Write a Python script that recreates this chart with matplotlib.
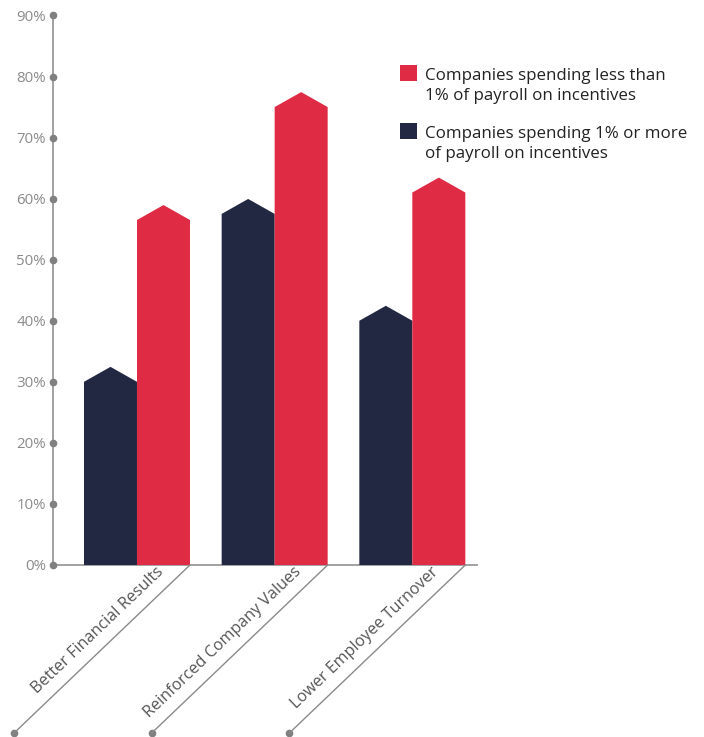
import matplotlib.pyplot as plt
from matplotlib.patches import Polygon, Rectangle
from matplotlib.transforms import ScaledTranslation

plt.rcParams['font.family'] = ['Open Sans', 'DejaVu Sans']

categories = ['Better Financial Results', 'Reinforced Company Values', 'Lower Employee Turnover']
high_spend = [30, 57.5, 40]     # 1% or more of payroll
low_spend = [56.5, 75, 61]      # less than 1% of payroll
y_ticks = [0, 10, 20, 30, 40, 50, 60, 70, 80, 90]

navy = '#232842'
red = '#e02b45'
axis_grey = '#9a9a9a'
label_grey = '#8a8a8a'

bar_w = 0.385
cap = 2.45   # height of the pointed roof

fig = plt.figure(figsize=(7.04, 7.37), dpi=100)
ax = fig.add_axes([0.0753, 0.2334, 0.6023, 0.7456])
ax.set_xlim(-0.61, 2.47)
ax.set_ylim(0, 90)


def house_bar(x0, value, color):
    x1 = x0 + bar_w
    pts = [(x0, 0), (x0, value), ((x0 + x1) / 2, value + cap), (x1, value), (x1, 0)]
    ax.add_patch(Polygon(pts, closed=True, facecolor=color, edgecolor='none', zorder=2))


for i in range(len(categories)):
    house_bar(i - bar_w, high_spend[i], navy)
    house_bar(i, low_spend[i], red)

# axes: plain grey lines with dots on the ticks
for s in ax.spines.values():
    s.set_visible(False)
ax.plot([-0.61, -0.61], [0, 90], color=axis_grey, lw=1.3, clip_on=False, zorder=1)
ax.plot([-0.61, 2.47], [0, 0], color=axis_grey, lw=1.3, clip_on=False, zorder=1)
ax.plot([-0.61] * len(y_ticks), y_ticks, 'o', color='#808080', ms=4.5, clip_on=False, zorder=3)
ax.set_xticks([])
ax.set_yticks(y_ticks)
ax.set_yticklabels([f'{t}%' for t in y_ticks], fontsize=10.8, color=label_grey)
ax.tick_params(axis='y', length=0, pad=5)

# slanted category labels with guide lines
for i, name in enumerate(categories):
    xr = i + bar_w
    end = ax.transData + ScaledTranslation(-1.76, -1.68, fig.dpi_scale_trans)
    ax.annotate('', xy=(xr, 0), xytext=(-126.7, -121), textcoords='offset points',
                arrowprops=dict(arrowstyle='-', color='#8a8a8a', lw=1, shrinkA=0, shrinkB=0),
                annotation_clip=False)
    ax.plot([xr], [0], 'o', color='#808080', ms=4.5, transform=end, clip_on=False)
    anchor = ax.transData + ScaledTranslation(-0.26, -0.075, fig.dpi_scale_trans)
    ax.text(xr, 0, name, transform=anchor, rotation=43.7, rotation_mode='anchor',
            ha='right', va='baseline', fontsize=11.6, color='#555555')

# legend (text y is the baseline of the second line)
legend_items = [(red, 'Companies spending less than\n1% of payroll on incentives', 81, 100),
                (navy, 'Companies spending 1% or more\nof payroll on incentives', 139, 158)]
for color, text, sq_bottom, baseline in legend_items:
    fig.patches.append(Rectangle((400 / 704, (737 - sq_bottom) / 737), 17 / 704, 16 / 737,
                                 transform=fig.transFigure, facecolor=color, edgecolor='none'))
    fig.text(425 / 704, (737 - baseline) / 737, text, fontsize=12.2, color='#222222',
             va='baseline', ha='left', linespacing=1.3)

fig.savefig('out.png', dpi=100)
